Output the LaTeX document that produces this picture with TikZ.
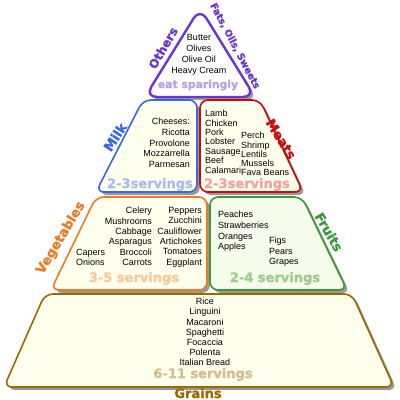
\documentclass[tikz,border=0pt]{standalone}
\usepackage{fontspec}
\setmainfont{Liberation Sans}
\newfontfamily\lblfont[FakeBold=1.2]{DejaVu Sans Bold}
\definecolor{purp}{HTML}{6A35D0}
\definecolor{purpl}{HTML}{B8A2EA}
\definecolor{blu}{HTML}{3A66E8}
\definecolor{blul}{HTML}{A9BBF2}
\definecolor{redd}{HTML}{CC0A0A}
\definecolor{redl}{HTML}{F2A2A2}
\definecolor{orng}{HTML}{F07A22}
\definecolor{orngl}{HTML}{F9C898}
\definecolor{grn}{HTML}{3A9A3A}
\definecolor{grnl}{HTML}{9CCC8C}
\definecolor{brn}{HTML}{9A6A00}
\definecolor{brnl}{HTML}{D6BE8C}
\definecolor{cream}{HTML}{FFFFEE}
\begin{document}
\begin{tikzpicture}[x=1pt,y=-1pt,
  item/.style={font=\fontsize{9}{10.5}\selectfont, inner sep=0pt},
  lbl/.style={font=\lblfont\fontsize{13}{13}\selectfont, inner sep=0pt},
  shadowfill/.style={fill=black!40},
  box/.style={line width=1.6pt},
  otherspath/.style={insert path={(200,8) -- (255,97) -- (145,97) -- cycle}},
  milkpath/.style={insert path={(143,100) -- (197,100) -- (197,192) -- (96,192) -- cycle}},
  meatspath/.style={insert path={(200,100) -- (260,100) -- (303,192) -- (200,192) -- cycle}},
  vegpath/.style={insert path={(96,197) -- (207,197) -- (207,290) -- (51,290) -- cycle}},
  fruitpath/.style={insert path={(210,197) -- (302,197) -- (347,290) -- (210,290) -- cycle}},
  grainpath/.style={insert path={(45,294) -- (352,294) -- (394,387) -- (4,387) -- cycle}}
]
\fill[white] (0,0) rectangle (400,400);
\useasboundingbox (0,0) rectangle (400,400);

% shadows
\fill[rounded corners=12pt, shift={(3,3)}, shadowfill, otherspath];
\fill[rounded corners=8pt, shift={(3,3)}, shadowfill, milkpath];
\fill[rounded corners=8pt, shift={(3,3)}, shadowfill, meatspath];
\fill[rounded corners=8pt, shift={(3,3)}, shadowfill, vegpath];
\fill[rounded corners=8pt, shift={(3,3)}, shadowfill, fruitpath];
\fill[rounded corners=8pt, shift={(3,3)}, shadowfill, grainpath];

% boxes
\draw[rounded corners=12pt, box, line width=2.4pt, draw=purp, fill=white, otherspath];
\draw[rounded corners=8pt, box, draw=blu, fill=cream, milkpath];
\draw[rounded corners=8pt, box, draw=redd, fill=cream, meatspath];
\draw[rounded corners=8pt, box, draw=orng, fill=cream, vegpath];
\draw[rounded corners=8pt, box, draw=grn, fill={rgb,255:red,246;green,252;blue,236}, fruitpath];
\draw[rounded corners=8pt, box, draw=brn, fill=cream, grainpath];

% Others
\node[item, font=\fontsize{9}{11}\selectfont, align=center, anchor=north] (othitems) at (199,34) {Butter\\Olives\\Olive Oil\\Heavy Cream};
\node[lbl, font=\lblfont\fontsize{10.8}{11}\selectfont, text=purpl, anchor=base] (eat) at (198,88) {eat sparingly};
\node[lbl, font=\lblfont\fontsize{12}{12}\selectfont, text=purp, rotate=60] (oth) at (163,48) {Others};
\node[lbl, font=\lblfont\fontsize{9.5}{10}\selectfont, text=purp, rotate=-62] (fats) at (235,46) {Fats, Oils, Sweets};

% Milk
\node[item, font=\fontsize{9}{10.7}\selectfont, align=right, anchor=north east] (milkitems) at (190,118) {Cheeses:\\Ricotta\\Provolone\\Mozzarrella\\Parmesan};
\node[lbl, text=blul, anchor=base] (milksv) at (150,188) {2-3servings};
\node[lbl, text=blu, rotate=57] (milk) at (115,137) {Milk};

% Meats
\node[item, font=\fontsize{9}{9.4}\selectfont, align=left, anchor=north west] (meat1) at (205,110) {Lamb\\Chicken\\Pork\\Lobster\\Sausage\\Beef\\Calamari};
\node[item, font=\fontsize{9}{9.3}\selectfont, align=left, anchor=north west] (meat2) at (241,132) {Perch\\Shrimp\\Lentils\\Mussels\\Fava Beans};
\node[lbl, text=redl, anchor=base] (meatsv) at (247,188) {2-3servings};
\node[lbl, text=redd, rotate=-58] (meats) at (281,139) {Meats};

% Vegetables
\node[item, font=\fontsize{9}{10.4}\selectfont, align=left, anchor=north west] (veg1) at (76,249) {Capers\\Onions};
\node[item, font=\fontsize{9}{10.4}\selectfont, align=right, anchor=north east] (veg2) at (152,207) {Celery\\Mushrooms\\Cabbage\\Asparagus\\Broccoli\\Carrots};
\node[item, font=\fontsize{9}{10.4}\selectfont, align=right, anchor=north east] (veg3) at (202,207) {Peppers\\Zucchini\\Cauliflower\\Artichokes\\Tomatoes\\Eggplant};
\node[lbl, text=orngl, anchor=base] (vegsv) at (134,282) {3-5 servings};
\node[lbl, text=orng, rotate=59] (veg) at (61,238) {Vegetables};

% Fruits
\node[item, font=\fontsize{9}{10.7}\selectfont, align=left, anchor=north west] (fr1) at (218,211) {Peaches\\Strawberries\\Oranges\\Apples};
\node[item, font=\fontsize{9}{10.5}\selectfont, align=left, anchor=north west] (fr2) at (269,237) {Figs\\Pears\\Grapes};
\node[lbl, text=grnl, anchor=base] (frsv) at (275,282) {2-4 servings};
\node[lbl, text=grn, rotate=-60] (fruits) at (329,232) {Fruits};

% Grains
\node[item, font=\fontsize{9}{10.2}\selectfont, align=center, anchor=north] (gritems) at (205,298) {Rice\\Linguini\\Macaroni\\Spaghetti\\Focaccia\\Polenta\\Italian Bread};
\node[lbl, text=brnl, anchor=base] (grsv) at (203,378) {6-11 servings};
\node[lbl, text=brn, anchor=base] (grains) at (198,398) {Grains};
\end{tikzpicture}
\end{document}
